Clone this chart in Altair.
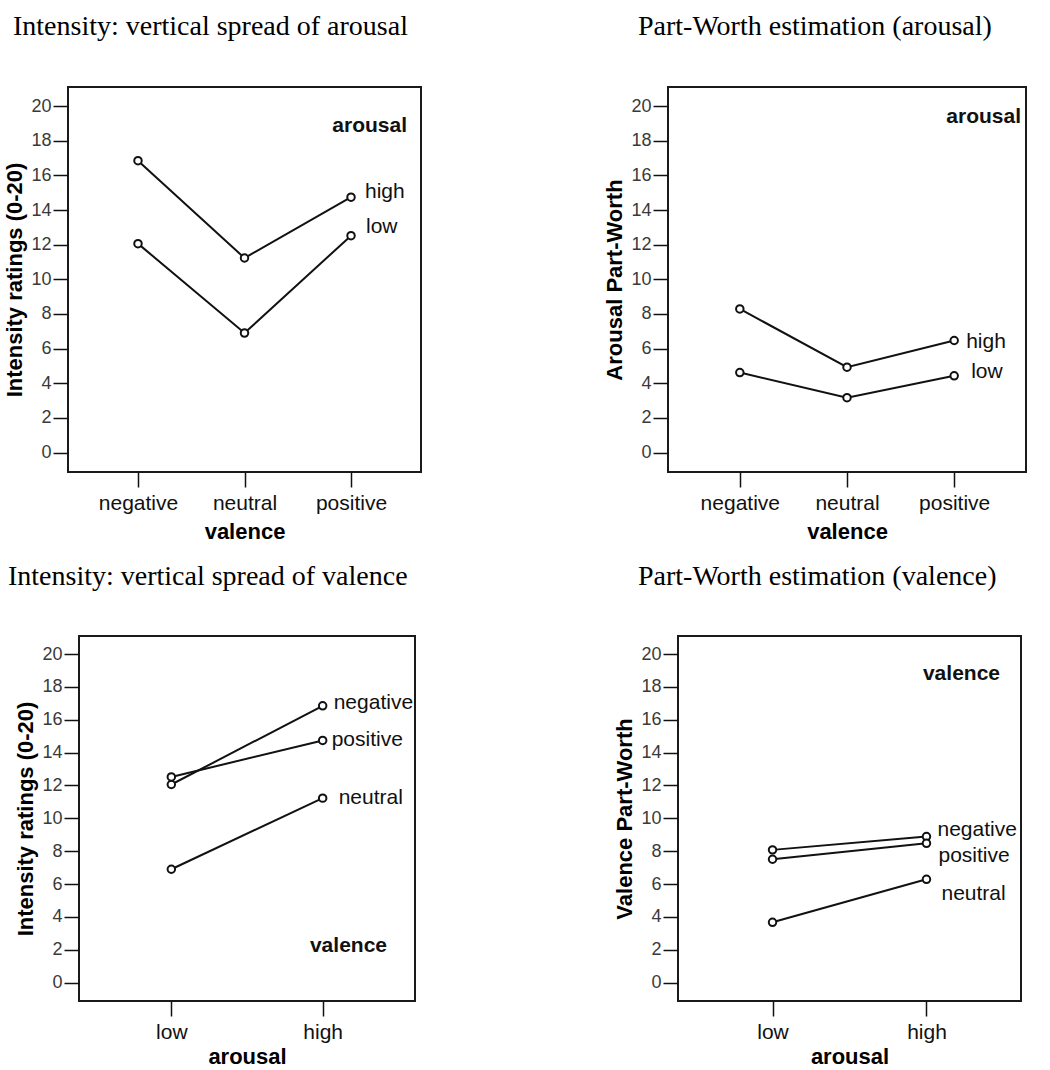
import altair as alt
import pandas as pd

# ---------------- data ----------------
valence_cats = ["negative", "neutral", "positive"]
arousal_cats = ["low", "high"]

# Panel 1: intensity ratings by valence, one line per arousal level
p1_high = [16.85, 11.23, 14.74]
p1_low = [12.06, 6.90, 12.52]
# Panel 2: arousal part-worth by valence
p2_high = [8.29, 4.93, 6.47]
p2_low = [4.62, 3.17, 4.43]
# Panel 3: intensity ratings by arousal, one line per valence
p3_negative = [12.06, 16.85]
p3_positive = [12.52, 14.74]
p3_neutral = [6.90, 11.23]
# Panel 4: valence part-worth by arousal
p4_negative = [8.08, 8.89]
p4_positive = [7.51, 8.48]
p4_neutral = [3.67, 6.29]

panel_titles = [
    "Intensity: vertical spread of arousal",
    "Part-Worth estimation (arousal)",
    "Intensity: vertical spread of valence",
    "Part-Worth estimation (valence)",
]
y_titles = ["Intensity ratings (0-20)", "Arousal Part-Worth",
            "Intensity ratings (0-20)", "Valence Part-Worth"]
x_titles = ["valence", "valence", "arousal", "arousal"]
legend_titles = ["arousal", "arousal", "valence", "valence"]
y_ticks = [0, 2, 4, 6, 8, 10, 12, 14, 16, 18, 20]

# ---------------- style / layout ----------------
SANS = "Liberation Sans"
SERIF = "Liberation Serif"
INK = "#111111"
Y_DOMAIN = [-1.12, 21.1]


def make_panel(xcats, series, xtitle, ytitle, title, legend_title,
               width, height, xpad, title_dx, title_offset,
               legend_style, label_offsets, xtitle_pad):
    rows = []
    for name, vals in series.items():
        for c, v in zip(xcats, vals):
            rows.append({"cat": c, "val": v, "series": name})
    df = pd.DataFrame(rows)

    xenc = alt.X(
        "cat:N", sort=xcats, title=xtitle,
        scale=alt.Scale(type="point", padding=xpad),
        axis=alt.Axis(domain=False, grid=False, labelAngle=0, tickSize=15,
                      tickColor=INK, tickWidth=1.5, labelFont=SANS,
                      labelFontSize=21, labelColor=INK, labelPadding=5,
                      titleFont=SANS, titleFontSize=22, titleFontWeight="bold",
                      titleColor="#000000", titlePadding=xtitle_pad),
    )
    yenc = alt.Y(
        "val:Q", title=ytitle,
        scale=alt.Scale(domain=Y_DOMAIN, nice=False, zero=False),
        axis=alt.Axis(values=y_ticks, domain=False, grid=False, tickSize=15,
                      tickColor=INK, tickWidth=1.5, labelFont=SANS,
                      labelFontSize=18, labelColor="#3a3a3a", labelPadding=2,
                      titleFont=SANS, titleFontSize=22, titleFontWeight="bold",
                      titleColor="#000000", titlePadding=4),
    )

    base = alt.Chart(df)
    lines = base.mark_line(color=INK, strokeWidth=2).encode(
        x=xenc, y=yenc, detail="series:N")
    pts = base.mark_circle(size=56, fill="white", stroke=INK, strokeWidth=2,
                           opacity=1).encode(x=xenc, y=yenc)

    layers = [lines, pts]
    last = xcats[-1]
    for name in series:
        dx, dy = label_offsets[name]
        lab = base.transform_filter(
            (alt.datum.series == name) & (alt.datum.cat == last)
        ).mark_text(align="left", baseline="alphabetic", dx=dx, dy=dy,
                    font=SANS, fontSize=21, color=INK).encode(
            x=xenc, y=yenc, text="series:N")
        layers.append(lab)

    lx, ly, lalign = legend_style
    leg = alt.Chart(pd.DataFrame({"t": [legend_title]})).mark_text(
        align=lalign, baseline="alphabetic", font=SANS, fontSize=21,
        fontWeight="bold", color=INK).encode(
        x=alt.value(lx), y=alt.value(ly), text="t:N")
    layers.append(leg)

    return alt.layer(*layers).properties(
        width=width, height=height,
        view=alt.ViewBackground(stroke="#1a1a1a", strokeWidth=2),
        title=alt.TitleParams(title, anchor="start",
                              frame="group", dx=title_dx, offset=title_offset,
                              font=SERIF, fontSize=28, fontWeight="normal",
                              color="#000000"),
    )


def spacer(w, h):
    return alt.Chart(pd.DataFrame({"v": [0]})).mark_point(opacity=0).encode(
        x=alt.value(0), y=alt.value(0)).properties(width=w, height=h)


p1 = make_panel(valence_cats, {"high": p1_high, "low": p1_low},
                x_titles[0], y_titles[0], panel_titles[0], legend_titles[0],
                353, 385, 0.657, -55, 46,
                (339, 45, "right"),
                {"high": (14, 1), "low": (15, -3)}, 8)
p2 = make_panel(valence_cats, {"high": p2_high, "low": p2_low},
                x_titles[1], y_titles[1], panel_titles[1], legend_titles[1],
                358, 385, 0.67, -30, 46,
                (353, 36, "right"),
                {"high": (12, 8), "low": (17, 2)}, 8)
p3 = make_panel(arousal_cats,
                {"negative": p3_negative, "positive": p3_positive,
                 "neutral": p3_neutral},
                x_titles[2], y_titles[2], panel_titles[2], legend_titles[2],
                336, 365, 0.61, -71, 45,
                (308, 316, "right"),
                {"negative": (11, 3), "positive": (9, 6), "neutral": (16, 6)}, 4)
p4 = make_panel(arousal_cats,
                {"negative": p4_negative, "positive": p4_positive,
                 "neutral": p4_neutral},
                x_titles[3], y_titles[3], panel_titles[3], legend_titles[3],
                343, 365, 0.614, -40, 45,
                (322, 44, "right"),
                {"negative": (11, -1), "positive": (12, 19), "neutral": (15, 21)}, 4)

row1 = alt.hconcat(spacer(1, 385), p1, spacer(247, 385), p2,
                   spacing=0, bounds="flush")
row2 = alt.hconcat(spacer(12, 365), p3, spacer(263, 365), p4,
                   spacing=0, bounds="flush")

chart = alt.concat(row1, row2, columns=1, spacing=19, align="none").properties(
    padding={"left": 2, "top": 12, "right": 5, "bottom": 0},
    background="white",
).configure_view(stroke="transparent")

chart.save("out.html", embed_options={"renderer": "svg", "actions": False})
